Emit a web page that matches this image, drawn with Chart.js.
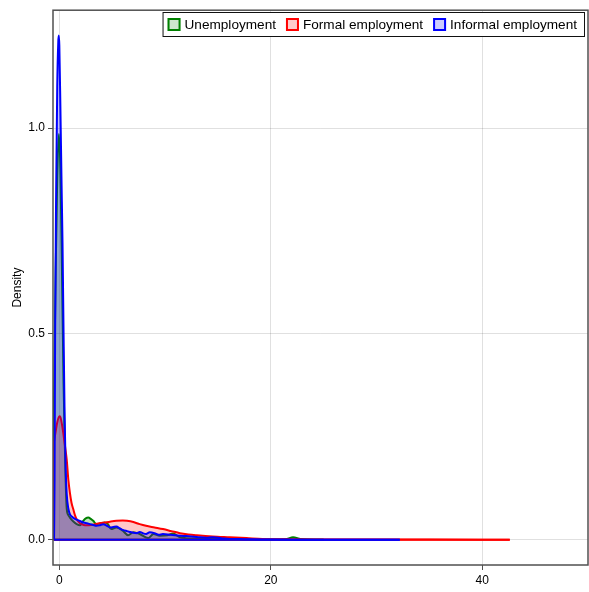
<!DOCTYPE html>
<html>
<head>
<meta charset="utf-8">
<script src="https://cdn.jsdelivr.net/npm/chart.js@4.4.1/dist/chart.umd.min.js"></script>
<style>
  html, body { margin: 0; padding: 0; background: #fff; }
  #wrap { width: 589px; height: 592px; }
</style>
</head>
<body>
<div id="wrap"><canvas id="c" width="589" height="592"></canvas></div>
<script>
// ---- data ----
const seriesNames = ["Unemployment", "Formal employment", "Informal employment"];
const xTicks = [0, 20, 40];
const yTicks = [0, 0.5, 1.0];
const yTickLabels = ["0.0", "0.5", "1.0"];

const unempX = [-0.55, -0.55, -0.45, -0.35, -0.2, -0.05, 0.1, 0.25, 0.4, 0.5, 0.6, 0.7, 0.85, 1.0, 1.3, 1.64, 1.95, 2.26, 2.5, 2.74, 3.0, 3.2, 3.5, 3.9, 4.3, 4.6, 4.9, 5.4, 6.0, 6.5, 7.0, 7.6, 8.4, 8.9, 9.5, 10.2, 10.75, 11.4, 12.0, 13.0, 14.0, 15.0, 17.0, 20.0, 21.5, 22.1, 22.8, 23.5, 25.0];
const unempY = [0, 0.30, 0.45, 0.65, 0.88, 0.986, 0.90, 0.65, 0.38, 0.25, 0.14, 0.075, 0.06, 0.054, 0.045, 0.038, 0.035, 0.046, 0.052, 0.054, 0.050, 0.046, 0.038, 0.040, 0.042, 0.038, 0.026, 0.030, 0.022, 0.011, 0.018, 0.014, 0.004, 0.014, 0.010, 0.011, 0.015, 0.006, 0.004, 0.003, 0.004, 0.002, 0.001, 0.0005, 0.002, 0.006, 0.002, 0.0005, 0];

const formalX = [-0.55, -0.55, -0.4, -0.2, 0, 0.1, 0.25, 0.38, 0.55, 0.7, 0.85, 1.0, 1.15, 1.32, 1.5, 1.64, 1.95, 2.3, 2.6, 3.0, 3.4, 3.8, 4.3, 4.8, 5.4, 6.0, 6.4, 7.0, 7.6, 8.2, 9.0, 9.8, 10.6, 11.4, 12.2, 13.0, 14.5, 16.1, 17.7, 19.2, 21.0, 25.0, 30.0, 35.0, 40.0, 42.6];
const formalY = [0, 0.235, 0.255, 0.285, 0.30, 0.298, 0.28, 0.258, 0.225, 0.194, 0.146, 0.114, 0.09, 0.074, 0.058, 0.050, 0.040, 0.036, 0.035, 0.036, 0.038, 0.040, 0.042, 0.044, 0.046, 0.047, 0.046, 0.043, 0.038, 0.034, 0.030, 0.026, 0.021, 0.016, 0.013, 0.011, 0.008, 0.006, 0.004, 0.002, 0.0012, 0.0008, 0.0005, 0.0004, 0.0003, 0];

const informalX = [-0.5, -0.45, -0.4, -0.3, -0.2, -0.1, -0.05, 0, 0.1, 0.2, 0.3, 0.4, 0.5, 0.6, 0.7, 0.85, 1.0, 1.2, 1.4, 1.64, 2.0, 2.3, 2.6, 2.9, 3.2, 3.5, 3.8, 4.15, 4.5, 4.8, 5.1, 5.4, 5.7, 6.0, 6.4, 6.7, 7.0, 7.3, 7.6, 8.0, 8.2, 8.55, 9.0, 9.4, 9.8, 10.5, 11.4, 12.0, 13.0, 13.9, 14.5, 15.3, 16.1, 17.0, 18.0, 20.0, 24.0, 28.0, 32.2];
const informalY = [0, 0.15, 0.5, 0.85, 1.1, 1.21, 1.225, 1.2, 1.05, 0.88, 0.72, 0.5, 0.3, 0.17, 0.11, 0.076, 0.062, 0.056, 0.052, 0.049, 0.045, 0.042, 0.040, 0.038, 0.036, 0.034, 0.035, 0.038, 0.034, 0.030, 0.031, 0.032, 0.028, 0.024, 0.021, 0.019, 0.017, 0.016, 0.019, 0.015, 0.014, 0.018, 0.016, 0.012, 0.014, 0.012, 0.010, 0.009, 0.007, 0.005, 0.006, 0.004, 0.002, 0.002, 0.001, 0.0005, 0.0003, 0.0002, 0];

// ---- styling ----
const lineColors = ["#008000", "#ff0000", "#0000ff"];
const fillColors = ["rgba(0,128,0,0.25)", "rgba(255,0,0,0.22)", "rgba(0,0,255,0.25)"];
const patchColors = ["rgba(0,128,0,0.2)", "rgba(255,0,0,0.2)", "rgba(0,0,255,0.2)"];
const FONT = "'Liberation Sans', Arial, Helvetica, sans-serif";

function pts(xs, ys) { return xs.map((x, i) => ({ x: x, y: ys[i] })); }
const allX = [unempX, formalX, informalX];
const allY = [unempY, formalY, informalY];

const datasets = [];
for (let k = 0; k < 3; k++) {
  const xs = allX[k];
  datasets.push({
    label: seriesNames[k],
    data: pts(xs, allY[k]),
    borderColor: lineColors[k],
    backgroundColor: fillColors[k],
    fill: 'origin',
    borderWidth: 2,
    pointRadius: 0,
    cubicInterpolationMode: 'monotone',
    order: 10 - 3 * k
  });
  datasets.push({
    label: seriesNames[k] + " base",
    isBase: true,
    data: [{ x: xs[0], y: 0 }, { x: xs[xs.length - 1], y: 0 }],
    borderColor: lineColors[k],
    fill: false,
    borderWidth: 2,
    pointRadius: 0,
    order: 9 - 3 * k
  });
}

const framePlugin = {
  id: 'frameAndLegend',
  afterDatasetsDraw(chart) {
    const ctx = chart.ctx;
    const a = chart.chartArea;
    ctx.save();
    ctx.strokeStyle = '#505050';
    ctx.lineWidth = 1.5;
    ctx.strokeRect(a.left, a.top, a.right - a.left, a.bottom - a.top);
    ctx.restore();
  },
  afterDraw(chart) {
    const ctx = chart.ctx;
    ctx.save();
    ctx.font = "13.6px " + FONT;
    const patch = 13, gapText = 4, gapEntry = 10, padL = 5, padR = 8;
    const widths = seriesNames.map(s => ctx.measureText(s).width);
    let total = padL + padR;
    widths.forEach((w, i) => { total += patch + gapText + w + (i > 0 ? gapEntry : 0); });
    const right = 585, top = 12, h = 25;
    const left = right - total;
    ctx.fillStyle = '#fff';
    ctx.fillRect(left, top, total, h);
    ctx.strokeStyle = '#111';
    ctx.lineWidth = 1;
    ctx.strokeRect(left + 0.5, top + 0.5, total - 1, h - 1);
    let x = left + padL;
    const cy = top + h / 2;
    seriesNames.forEach((s, i) => {
      if (i > 0) x += gapEntry;
      ctx.fillStyle = patchColors[i];
      ctx.fillRect(x, cy - patch / 2, patch, patch);
      ctx.strokeStyle = lineColors[i];
      ctx.lineWidth = 2;
      ctx.strokeRect(x + 1, cy - patch / 2 + 1, patch - 2, patch - 2);
      x += patch + gapText;
      ctx.fillStyle = '#000';
      ctx.textBaseline = 'middle';
      ctx.textAlign = 'left';
      ctx.fillText(s, x, cy + 0.5);
      x += widths[i];
    });
    ctx.restore();
  }
};

new Chart(document.getElementById('c'), {
  type: 'line',
  data: { datasets: datasets },
  options: {
    responsive: false,
    animation: false,
    parsing: true,
    layout: { padding: { top: 6, right: 1, left: 0, bottom: 0 } },
    plugins: {
      legend: { display: false },
      tooltip: { enabled: false },
      filler: { propagate: false }
    },
    scales: {
      x: {
        type: 'linear',
        min: -0.6,
        max: 50,
        afterBuildTicks(scale) { scale.ticks = xTicks.map(v => ({ value: v })); },
        afterFit(scale) { scale.height = 27; },
        grid: { color: 'rgba(0,0,0,0.12)', tickColor: '#505050', tickLength: 5, lineWidth: 1 },
        border: { display: false },
        ticks: { color: '#000', font: { family: FONT, size: 12 }, padding: 3, maxRotation: 0 }
      },
      y: {
        type: 'linear',
        min: -0.0613,
        max: 1.2866,
        afterBuildTicks(scale) { scale.ticks = yTicks.map(v => ({ value: v })); },
        afterFit(scale) { scale.width = 53; },
        grid: { color: 'rgba(0,0,0,0.12)', tickColor: '#505050', tickLength: 5, lineWidth: 1 },
        border: { display: false },
        ticks: {
          color: '#000', font: { family: FONT, size: 12 }, padding: 3,
          callback(v) { const i = yTicks.indexOf(v); return i >= 0 ? yTickLabels[i] : ''; }
        },
        title: { display: true, text: 'Density', color: '#000', font: { family: FONT, size: 12 }, padding: { top: 10, bottom: 0 } }
      }
    }
  },
  plugins: [framePlugin]
});
</script>
</body>
</html>
